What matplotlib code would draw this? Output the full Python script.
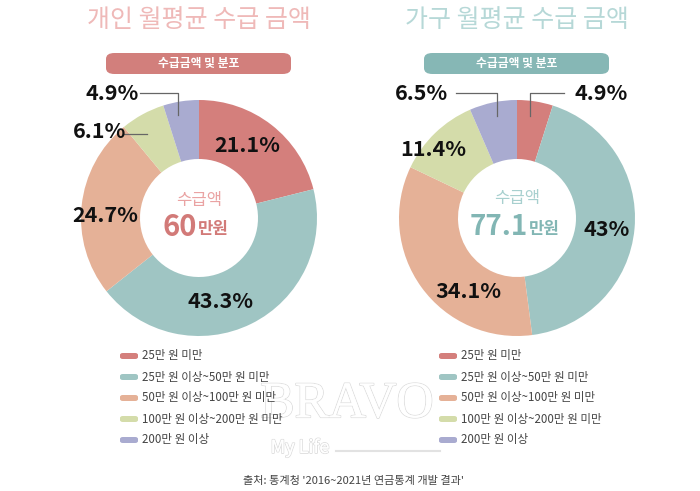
import matplotlib.pyplot as plt
from matplotlib.patches import FancyBboxPatch
from matplotlib.lines import Line2D
import matplotlib.patheffects as pe

plt.rcParams['font.family'] = ['Noto Sans CJK KR', 'DejaVu Sans']

categories = ["25만 원 미만", "25만 원 이상~50만 원 미만", "50만 원 이상~100만 원 미만",
              "100만 원 이상~200만 원 미만", "200만 원 이상"]
personal = [21.1, 43.3, 24.7, 6.1, 4.9]
household = [4.9, 43.0, 34.1, 11.4, 6.5]
personal_labels = ["21.1%", "43.3%", "24.7%", "6.1%", "4.9%"]
household_labels = ["4.9%", "43%", "34.1%", "11.4%", "6.5%"]
colors = ["#d47f7c", "#9fc5c3", "#e5b197", "#d4dcaa", "#a9abd0"]

W, H = 700, 491
fig = plt.figure(figsize=(7, 4.91), dpi=100)


def px(x, y):
    return x / W, 1 - y / H


R = 118  # donut radius in pixels


def donut(cx, cy, values):
    size = 300
    ax = fig.add_axes([(cx - size / 2) / W, 1 - (cy + size / 2) / H, size / W, size / H])
    ax.pie(values, colors=colors, startangle=90, counterclock=False,
           wedgeprops=dict(width=0.5, edgecolor="none"))
    lim = size / 2 / R
    ax.set_xlim(-lim, lim)
    ax.set_ylim(-lim, lim)
    ax.set_aspect("equal")
    ax.axis("off")
    return ax


donut(199, 218, personal)
donut(517, 218, household)

# titles
fig.text(*px(199, 20), "개인 월평균 수급 금액", ha="center", va="center",
         fontsize=18, color="#efb9b8", fontweight="light")
fig.text(*px(517, 20), "가구 월평균 수급 금액", ha="center", va="center",
         fontsize=18, color="#b6d8d7", fontweight="light")

# banners
for x0, col in [(106, "#d27f7c"), (424, "#86b7b5")]:
    fx, fy = px(x0, 74)
    box = FancyBboxPatch((fx, fy), 185 / W, 21 / H, boxstyle="round,pad=0,rounding_size=0.012",
                         transform=fig.transFigure, facecolor=col, edgecolor="none")
    fig.add_artist(box)
    fig.text(*px(x0 + 92.5, 63.5), "수급금액 및 분포", ha="center", va="center",
             fontsize=8.5, color="white", fontweight="bold")

# percentage labels
pct_style = dict(ha="center", va="center", fontsize=15.5, fontweight="black", color="#111111")
left_pos = [(247, 145), (221, 301), (105, 216), (100, 132), (112, 93)]
right_pos = [(601, 93), (607, 230), (468, 292), (433, 150), (421, 93)]
for lab, (x, y) in zip(personal_labels, left_pos):
    fig.text(*px(x, y), lab, **pct_style)
for lab, (x, y) in zip(household_labels, right_pos):
    fig.text(*px(x, y), lab, **pct_style)

# leader lines
leaders = [
    [(140, 93), (178, 93), (178, 115)],
    [(124, 134), (147, 134)],
    [(456, 93), (497, 93), (497, 116)],
    [(564, 93), (530, 93), (530, 116)],
]
for pts in leaders:
    xs = [px(*p)[0] for p in pts]
    ys = [px(*p)[1] for p in pts]
    fig.add_artist(Line2D(xs, ys, transform=fig.transFigure, color="#666666", lw=0.9))

# center texts
fig.text(*px(199, 201), "수급액", ha="center", va="center", fontsize=12,
         color="#eaa3a3", fontweight="light")
fig.text(*px(197, 227), "60", ha="right", va="center", fontsize=21,
         color="#d27a78", fontweight="bold")
fig.text(*px(198, 229), "만원", ha="left", va="center", fontsize=12,
         color="#d27a78", fontweight="bold")
fig.text(*px(517, 199), "수급액", ha="center", va="center", fontsize=12,
         color="#a8d0cf", fontweight="light")
fig.text(*px(528, 227), "77.1", ha="right", va="center", fontsize=20,
         color="#82b6b4", fontweight="bold")
fig.text(*px(529, 229), "만원", ha="left", va="center", fontsize=12,
         color="#82b6b4", fontweight="bold")

# watermark
wm = fig.text(*px(347, 405), "BRAVO", ha="center", va="center", fontsize=37,
              family="Liberation Serif", color="white", zorder=0)
wm.set_path_effects([pe.withStroke(linewidth=1.2, foreground="#dcdcdc"), pe.Normal()])
wm2 = fig.text(*px(300, 448), "My Life", ha="center", va="center", fontsize=13,
               color="white", zorder=0)
wm2.set_path_effects([pe.withStroke(linewidth=1.2, foreground="#dcdcdc"), pe.Normal()])
fig.add_artist(Line2D([px(336, 0)[0], px(440, 0)[0]], [px(0, 451)[1]] * 2,
                      transform=fig.transFigure, color="#e2e2e2", lw=1.5, zorder=0))

# legends
for x0 in (120, 439):
    for i, (cat, col) in enumerate(zip(categories, colors)):
        y = 356 + i * 21
        fx, fy = px(x0, y + 3)
        pill = FancyBboxPatch((fx, fy), 18 / W, 6 / H, boxstyle="round,pad=0,rounding_size=0.004",
                              transform=fig.transFigure, facecolor=col, edgecolor="none")
        fig.add_artist(pill)
        fig.text(*px(x0 + 22, y), cat, ha="left", va="center", fontsize=8.3, color="#444444")

# source
fig.text(*px(354, 481), "출처: 통계청 '2016~2021년 연금통계 개발 결과'", ha="center", va="center",
         fontsize=8, color="#444444")

fig.savefig("out.png", dpi=100, facecolor="white")
